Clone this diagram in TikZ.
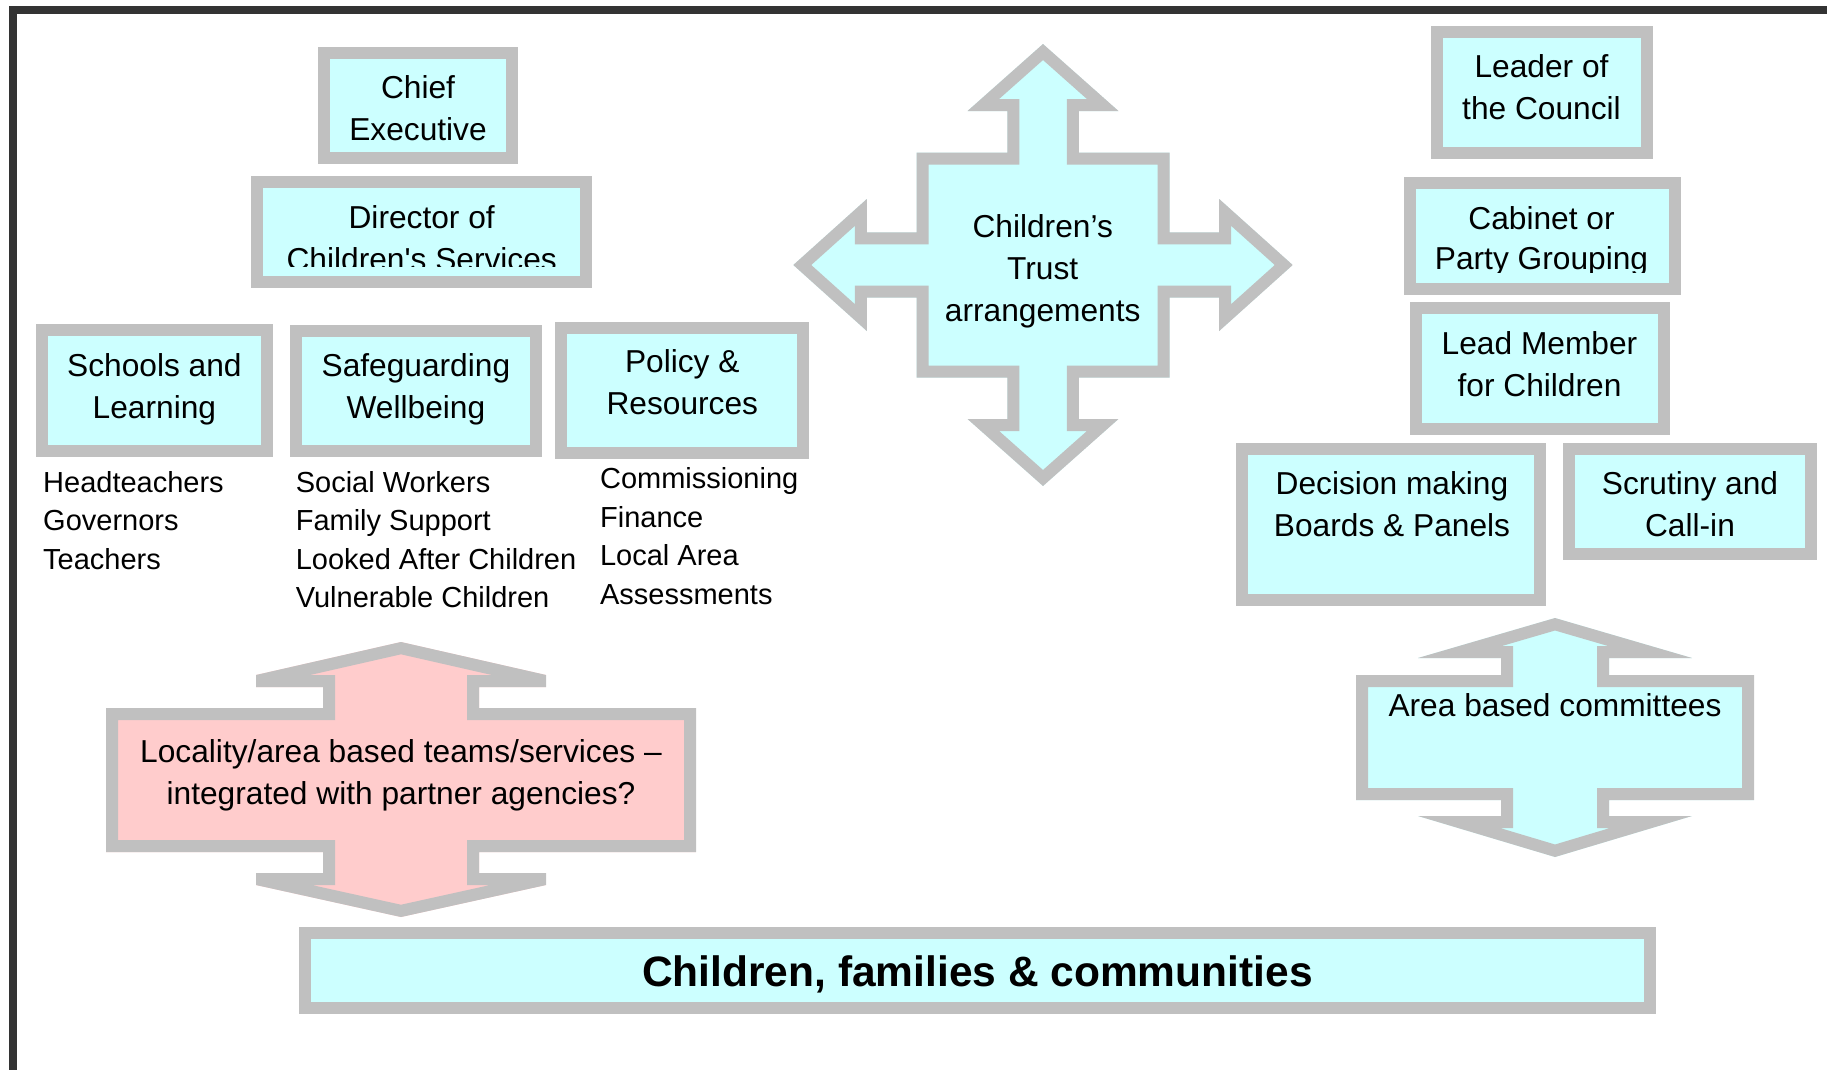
\documentclass[tikz,border=0pt]{standalone}
\usepackage{fontspec}
\setmainfont{Liberation Sans}[Ligatures=TeXOff]
\definecolor{boxgray}{HTML}{C0C0C0}
\definecolor{cyanfill}{HTML}{CCFFFF}
\definecolor{pinkfill}{HTML}{FFCCCC}
\definecolor{framegray}{HTML}{333333}
\newcommand\txtlines[2][c]{\begin{tabular}[t]{@{}#1@{}}#2\end{tabular}}
\newcommand\arrowshape[2]{\begin{scope}\clip #2 -- cycle;\filldraw[fill=#1,draw=boxgray,line width=24pt,line join=miter] #2 -- cycle;\end{scope}}
\begin{document}
\begin{tikzpicture}[x=1pt,y=-1pt,
  box/.style={draw=boxgray,fill=cyanfill,line width=12pt,inner sep=0pt},
  lbl/.style={font=\fontsize{31.7}{42}\selectfont,inner sep=0pt,anchor=base},
  lst/.style={font=\fontsize{29}{38.5}\selectfont,inner sep=0pt,anchor=base west},
  bold/.style={font=\fontsize{42.5}{50}\selectfont\bfseries,inner sep=0pt,anchor=base}]
\clip (0,0) rectangle (1827,1069);
\fill[white] (0,0) rectangle (1827,1069);
\draw[framegray,line width=8pt] (13,10.3) rectangle (1900,1100);

% left hierarchy
\node[box,minimum width=188.9pt,minimum height=105.3pt] (ce) at (418,105.7) {};
\node[lbl] (cet) at (418,98.3) {\txtlines{Chief\\Executive}};
\node[box,minimum width=329.5pt,minimum height=100.3pt] (dcs) at (421.7,232.2) {};
\begin{scope}
\clip (250,188) rectangle (593,266);
\node[lbl] (dcst) at (421.7,228.3) {\txtlines{Director of\\Children's Services}};
\end{scope}
\node[box,minimum width=225.6pt,minimum height=120.4pt] (sl) at (154.4,390.5) {};
\node[lbl] (slt) at (154.4,376.7) {\txtlines{Schools and\\Learning}};
\node[box,minimum width=240pt,minimum height=119.7pt] (sw) at (415.9,390.9) {};
\node[lbl] (swt) at (415.9,376.7) {\txtlines{Safeguarding\\Wellbeing}};
\node[box,minimum width=242.3pt,minimum height=125.3pt] (pr) at (682.3,390.7) {};
\node[lbl] (prt) at (682.3,372.7) {\txtlines{Policy \&\\Resources}};

% lists
\node[lst] (l1) at (43,492.1) {\txtlines[l]{Headteachers\\Governors\\Teachers}};
\node[lst] (l2) at (295.6,492.1) {\txtlines[l]{Social Workers\\Family Support\\Looked After Children\\Vulnerable Children}};
\node[lst] (l3) at (599.9,488.9) {\txtlines[l]{Commissioning\\Finance\\Local Area\\Assessments}};

% Children's Trust arrow
\arrowshape{cyanfill}{(1043,44) -- (1118.5,111) -- (1078.75,111) -- (1078.75,152.5) -- (1169.5,152.5) -- (1169.5,232.3) -- (1219.2,232.3) -- (1219.2,199) -- (1292.7,265) -- (1219.2,331) -- (1219.2,297.7) -- (1169.5,297.7) -- (1169.5,377.5) -- (1078.75,377.5) -- (1078.75,419) -- (1118.5,419) -- (1043,486) -- (967.5,419) -- (1007.25,419) -- (1007.25,377.5) -- (916.5,377.5) -- (916.5,297.7) -- (866.8,297.7) -- (866.8,331) -- (793.3,265) -- (866.8,199) -- (866.8,232.3) -- (916.5,232.3) -- (916.5,152.5) -- (1007.25,152.5) -- (1007.25,111) -- (967.5,111)}
\node[lbl] (trust) at (1042.7,237.3) {\txtlines{Children’s\\Trust\\arrangements}};

% right hierarchy
\node[box,minimum width=210.4pt,minimum height=121.3pt] (lc) at (1542.2,92.7) {};
\node[lbl] (lct) at (1541.5,77.3) {\txtlines{Leader of\\the Council}};
\node[box,minimum width=265.1pt,minimum height=105.7pt] (cab) at (1542.9,236.2) {};
\begin{scope}
\clip (1400,188) rectangle (1690,272.7);
\node[lbl] (cabt) at (1541.5,229.3) {\txtlines{Cabinet or\\[-2pt]Party Grouping}};
\end{scope}
\node[box,minimum width=248.4pt,minimum height=120.7pt] (lm) at (1539.9,368.7) {};
\node[lbl] (lmt) at (1539.5,354) {\txtlines{Lead Member\\for Children}};
\node[box,minimum width=297.8pt,minimum height=150.9pt] (dm) at (1390.7,524.3) {};
\node[lbl] (dmt) at (1392,494.2) {\txtlines{Decision making\\Boards \& Panels}};
\node[box,minimum width=241.6pt,minimum height=105.5pt] (sc) at (1690.1,501.6) {};
\node[lbl] (sct) at (1690,494.2) {\txtlines{Scrutiny and\\Call-in}};

% Area based committees arrow
\arrowshape{cyanfill}{(1555,618) -- (1692,658) -- (1609,658) -- (1609,675) -- (1754,675) -- (1754,800) -- (1609,800) -- (1609,816) -- (1692,816) -- (1555,857) -- (1418,816) -- (1501,816) -- (1501,800) -- (1356,800) -- (1356,675) -- (1501,675) -- (1501,658) -- (1418,658)}
\node[lbl] (area) at (1555,716.8) {Area based committees};

% Locality arrow
\arrowshape{pinkfill}{(401,642) -- (546,675) -- (546,687) -- (479,687) -- (479,708) -- (696,708) -- (696,852) -- (479,852) -- (479,873) -- (546,873) -- (546,885) -- (401,917) -- (256,885) -- (256,873) -- (323,873) -- (323,852) -- (106,852) -- (106,708) -- (323,708) -- (323,687) -- (256,687) -- (256,675)}
\node[lbl] (loc) at (401,762.9) {\txtlines{Locality/area based teams/services \textendash\\integrated with partner agencies?}};

% bottom bar
\node[box,minimum width=1344.2pt,minimum height=75pt] (bar) at (977.4,970.1) {};
\node[bold] (bart) at (977.4,986.3) {Children, families \& communities};
\end{tikzpicture}
\end{document}
